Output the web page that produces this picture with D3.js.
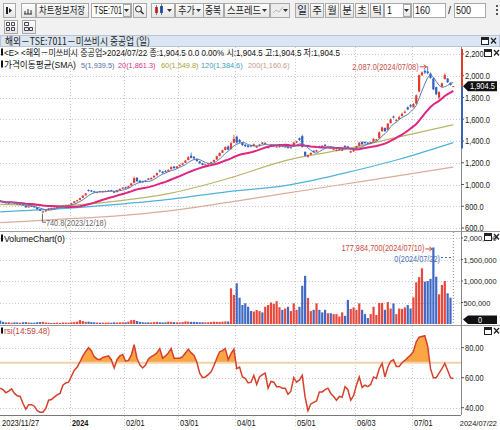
<!DOCTYPE html>
<html>
<head>
<meta charset="utf-8">
<script src="https://cdn.jsdelivr.net/npm/d3@7"></script>
<style>
  body { margin: 0; background: #fff; }
  svg text { font-family: "Liberation Sans", "Noto Sans CJK KR", sans-serif; }
  .kr { font-family: "Noto Sans CJK KR", sans-serif !important; }
</style>
</head>
<body>
<svg id="chart" width="500" height="430"></svg>
<script>
// trading days shown (160 bars)
var dates = [
  "2023/11/27","2023/11/28","2023/11/29","2023/11/30","2023/12/01",
  "2023/12/04","2023/12/05","2023/12/06","2023/12/07","2023/12/08",
  "2023/12/11","2023/12/12","2023/12/13","2023/12/14","2023/12/15",
  "2023/12/18","2023/12/19","2023/12/20","2023/12/21","2023/12/22",
  "2023/12/25","2023/12/26","2023/12/27","2023/12/28","2023/12/29",
  "2024/01/04","2024/01/05","2024/01/09","2024/01/10","2024/01/11","2024/01/12",
  "2024/01/15","2024/01/16","2024/01/17","2024/01/18","2024/01/19",
  "2024/01/22","2024/01/23","2024/01/24","2024/01/25","2024/01/26",
  "2024/01/29","2024/01/30","2024/01/31",
  "2024/02/01","2024/02/02","2024/02/05","2024/02/06","2024/02/07","2024/02/08","2024/02/09",
  "2024/02/13","2024/02/14","2024/02/15","2024/02/16",
  "2024/02/19","2024/02/20","2024/02/21","2024/02/22",
  "2024/02/26","2024/02/27","2024/02/28","2024/02/29",
  "2024/03/01","2024/03/04","2024/03/05","2024/03/06","2024/03/07","2024/03/08",
  "2024/03/11","2024/03/12","2024/03/13","2024/03/14","2024/03/15",
  "2024/03/18","2024/03/19","2024/03/21","2024/03/22",
  "2024/03/25","2024/03/26","2024/03/27","2024/03/28","2024/03/29",
  "2024/04/01","2024/04/02","2024/04/03","2024/04/04","2024/04/05",
  "2024/04/08","2024/04/09","2024/04/10","2024/04/11","2024/04/12",
  "2024/04/15","2024/04/16","2024/04/17","2024/04/18","2024/04/19",
  "2024/04/22","2024/04/23","2024/04/24","2024/04/25","2024/04/26",
  "2024/04/30",
  "2024/05/01","2024/05/02","2024/05/07","2024/05/08","2024/05/09","2024/05/10",
  "2024/05/13","2024/05/14","2024/05/15","2024/05/16","2024/05/17",
  "2024/05/20","2024/05/21","2024/05/22","2024/05/23","2024/05/24",
  "2024/05/27","2024/05/28","2024/05/29","2024/05/30","2024/05/31",
  "2024/06/03","2024/06/04","2024/06/05","2024/06/06","2024/06/07",
  "2024/06/10","2024/06/11","2024/06/12","2024/06/13","2024/06/14",
  "2024/06/17","2024/06/18","2024/06/19","2024/06/20","2024/06/21",
  "2024/06/24","2024/06/25","2024/06/26","2024/06/27","2024/06/28",
  "2024/07/01","2024/07/02","2024/07/03","2024/07/04","2024/07/05",
  "2024/07/08","2024/07/09","2024/07/10","2024/07/11","2024/07/12",
  "2024/07/16","2024/07/17","2024/07/18","2024/07/19","2024/07/22"];

var opens = [
  852,846,838,826,830,835,826,815,818,805, 790,802,798,790,772,748,754,764,784,778,
  786,792,798,804,808,815,830,846,858,878, 900,950,945,938,925,938,930,935,938,948,
  938,930,950,962,975,968,990,1015,1062,1035, 1030,1035,1055,1048,1065,1085,1130,1118,1125,1120,
  1140,1165,1150,1168,1182,1200,1225,1265,1255,1235, 1212,1195,1178,1185,1195,1208,1230,1262,1292,1318,
  1350,1325,1385,1440,1410,1385,1365,1358,1360,1352, 1340,1355,1385,1372,1335,1348,1350,1342,1345,1358,
  1342,1348,1335,1350,1385,1425,1445,1300,1255,1275, 1310,1302,1350,1355,1365,1340,1348,1320,1310,1315,
  1312,1355,1350,1295,1305,1322,1355,1392,1392,1385, 1372,1395,1405,1425,1490,1520,1500,1565,1625,1585,
  1600,1630,1660,1710,1730,1712,1745,1855,2005,2045, 2040,2020,1975,1895,1800,1900,1970,1975,1935,1904.5];

var highs = [
  856,848,840,836,840,838,828,824,820,807, 802,805,800,792,774,756,766,784,788,790,
  798,800,810,814,816,832,848,860,878,902, 922,955,950,940,935,942,942,945,950,952,
  940,952,964,978,980,990,1015,1073,1068,1040, 1036,1042,1060,1066,1085,1110,1138,1125,1132,1140,
  1168,1170,1170,1185,1200,1225,1262,1293,1260,1240, 1218,1200,1190,1200,1210,1230,1265,1295,1320,1350,
  1360,1390,1455,1448,1418,1392,1372,1362,1366,1378, 1360,1375,1390,1390,1352,1368,1365,1356,1358,1362,
  1356,1352,1348,1392,1402,1432,1458,1305,1278,1295, 1315,1320,1358,1362,1372,1356,1352,1334,1324,1330,
  1326,1362,1355,1312,1322,1355,1392,1398,1396,1390, 1395,1425,1420,1488,1532,1525,1565,1608,1635,1602,
  1632,1662,1682,1718,1740,1748,1828,2012,2040,2060, 2087,2030,1985,1900,1858,1938,2022,1980,1940,1904.5];

var lows = [
  840,834,825,824,828,822,814,812,805,786, 788,792,788,768,756,740.8,750,762,774,776,
  784,790,796,802,804,812,828,842,855,876, 898,935,930,924,922,928,928,932,935,936,
  920,928,946,958,960,965,985,1010,1025,1012, 1015,1022,1040,1045,1062,1082,1112,1100,1110,1116,
  1138,1145,1148,1165,1178,1196,1222,1240,1232,1210, 1190,1176,1175,1182,1192,1205,1228,1258,1290,1315,
  1315,1322,1380,1378,1382,1355,1345,1338,1342,1350, 1336,1352,1368,1370,1330,1345,1346,1338,1340,1342,
  1338,1330,1332,1348,1380,1402,1340,1255,1245,1270, 1292,1298,1335,1340,1350,1336,1330,1316,1306,1312,
  1308,1340,1332,1290,1300,1320,1352,1365,1375,1370, 1370,1392,1400,1422,1485,1482,1498,1560,1608,1578,
  1596,1626,1655,1688,1706,1708,1740,1850,1998,2015, 2010,1972,1868,1820,1786,1895,1965,1935,1910,1904.5];

var closes = [
  845,838,828,832,836,826,818,820,808,790, 798,796,792,772,760,752,762,780,778,786,
  794,797,806,810,812,828,845,855,875,898, 918,942,935,928,930,932,938,940,945,940,
  925,948,960,972,965,985,1010,1058,1030,1018, 1020,1028,1045,1060,1080,1105,1120,1105,1118,1135,
  1160,1150,1165,1180,1195,1220,1250,1245,1240,1215, 1195,1180,1185,1195,1205,1225,1260,1290,1315,1345,
  1320,1380,1420,1385,1390,1362,1352,1345,1350,1370, 1352,1368,1375,1382,1345,1362,1360,1350,1352,1348,
  1350,1335,1342,1385,1395,1410,1345,1265,1270,1290, 1300,1315,1340,1345,1355,1350,1335,1328,1318,1325,
  1320,1345,1338,1305,1318,1350,1385,1370,1380,1375, 1390,1420,1415,1480,1525,1490,1560,1600,1615,1595,
  1619,1649,1669,1689,1718,1740,1820,2005,2030,2030, 2025,1980,1875,1830,1850,1930,2008,1940,1915,1904.5];

// volume in thousands of axis units (axis is shares / 100)
var volumes = [
  80,50,35,40,30,38,35,30,40,45, 35,30,30,42,45,48,35,30,25,28,
  30,25,35,32,30,40,45,55,90,70, 50,55,45,40,35,30,35,32,35,30,
  40,35,38,42,40,55,90,95,70,50, 40,35,40,38,45,50,42,38,40,55,
  50,45,40,38,45,60,55,50,48,45, 42,40,38,40,45,55,50,48,55,60,
  58,830,674,946,612,442,481,402,302,290, 325,300,270,402,440,500,470,530,390,330,
  360,400,300,480,330,400,890,1120,605,300, 330,480,330,270,330,250,250,230,230,175,
  270,190,560,350,385,330,480,330,230,140, 230,400,210,490,490,330,510,360,480,230,
  360,350,385,440,360,620,970,1090,1295,985, 1000,1050,1779.847,1100,690,907,1000,714,612,0];

var rsi = [
  53,52,50,51,52.5,49.5,48,47.5,43,39, 42,42,41,38,37,37,39.5,45,45.5,47,
  48.5,49.5,55,56.5,57,61,65,67,70.5,74.5, 77.5,80,78,74,72.5,72,73.5,74,74.5,72,
  66.5,72,74.5,75.5,71,71.5,75,82,73,68.5, 66.5,68.5,72.5,74,75,76.5,79.5,73,74.5,76.5,
  79.5,73,73,73,74,76.5,79,76.5,75,70.5, 63,60,60.5,62,64,68,73,77.3,78,79.5,
  72,76,79,66,67,60.5,59.5,56.5,57,61.5, 55.5,60.5,62,63,53,57.5,57,54,54,53,
  53,49,51,60,57,58.5,61.5,47,38,42.5, 43.5,44.5,50.5,50.5,52,53,49.5,47.5,45,47.5,
  47,54,52,45,48,55,60.5,53.5,55,54, 55.5,60.5,59.5,66,69.5,60.5,67,71,72,67.5,
  67.5,70,71.5,73.5,75,77.5,84,87,87.5,88, 81,66,60,60,63,66,69.5,65,60,59.48];

// long moving averages at sample dates
var maDates = ["2023/11/27","2023/12/25","2024/01/26","2024/02/27","2024/03/27","2024/04/24","2024/05/27","2024/06/24","2024/07/22"];
var ma60  = [818, 806, 845, 920, 1055, 1220, 1320, 1438, 1549.8];
var ma120 = [748, 775, 815, 865, 935, 990, 1100, 1232, 1384.6];
var ma200 = [649, 679, 709, 760, 836, 918, 1000, 1082, 1160.6];

var xTickDates  = ["2024/01/04","2024/02/01","2024/03/01","2024/04/01","2024/05/01","2024/06/03","2024/07/01"];
var xTickLabels = ["2024","02/01","03/01","04/01","05/01","06/03","07/01"];
var priceTicks = [600, 800, 1000, 1200, 1400, 1600, 1800, 2000, 2200];
var volTicks = [500, 1000, 1500, 2000];
var rsiTicks = [40, 60, 80];
var axisBandLow = 1330;   // lower end of the blue band on the price axis

var RED = "#e4392b", BLUE = "#2f5fc2";

var svg = d3.select("#chart");
var n = dates.length;
var idx = d3.range(n);

// panels
var plotR = 461;
var pTop = 47, pBot = 231, vTop = 232, vBot = 325, rTop = 326, rBot = 415;

var x = d3.scaleBand().domain(dates).range([-1.25, 454.75]);
var cx = function(d) { return x(d) + x.bandwidth() / 2; };
var yP = d3.scaleLinear().domain([600, 2200]).range([228, 54]);
var yV = d3.scaleLinear().domain([0, 2000]).range([324, 238]);
var yR = d3.scaleLinear().domain([40, 80]).range([407.7, 347.7]);

var fmtP = d3.format(",.1f"), fmtV = d3.format(","), fmtR = d3.format(".2f");

// width of a number label in the narrow chart font
function tl(s) {
  var d = s.replace(/[^0-9]/g, "").length;
  return d * 4.1 + (s.length - d) * 2.2;
}
function numText(g, xx, yy, s, opts) {
  opts = opts || {};
  var t = g.append("text").attr("x", xx).attr("y", yy).attr("font-size", opts.size || 9)
    .attr("fill", opts.fill || "#222").attr("text-anchor", opts.anchor || "start")
    .attr("textLength", tl(s)).attr("lengthAdjust", "spacingAndGlyphs").text(s);
  if (opts.bold) t.attr("font-weight", "bold");
  return t;
}

// ---------- toolbar ----------
var defs = svg.append("defs");
var grad = defs.append("linearGradient").attr("id", "btn").attr("x1", 0).attr("x2", 0).attr("y1", 0).attr("y2", 1);
grad.append("stop").attr("offset", "0").attr("stop-color", "#ffffff");
grad.append("stop").attr("offset", "1").attr("stop-color", "#e4e4e4");

svg.append("rect").attr("width", 500).attr("height", 36).attr("fill", "#f1f1f1");

var tb = svg.append("g");
function btn(x0, y0, w, h, fill) {
  tb.append("rect").attr("x", x0 + 0.5).attr("y", y0 + 0.5).attr("width", w).attr("height", h)
    .attr("fill", fill || "url(#btn)").attr("stroke", "#a9a9a9");
}
function drop(x0, y0) {
  tb.append("path").attr("d", "M" + x0 + "," + y0 + "h5l-2.5,3z").attr("fill", "#333");
}
function label(x0, y0, s, w, anchor) {
  var t = tb.append("text").attr("class", "kr").attr("x", x0).attr("y", y0)
    .attr("font-size", 10.5).attr("fill", "#222").attr("text-anchor", anchor || "start").text(s);
  if (w) t.attr("textLength", w).attr("lengthAdjust", "spacingAndGlyphs");
}
function plain(x0, y0, s, w) {
  tb.append("text").attr("x", x0).attr("y", y0).attr("font-size", 10).attr("fill", "#111")
    .attr("textLength", w).attr("lengthAdjust", "spacingAndGlyphs").text(s);
}

btn(3, 3, 12, 14);
tb.append("rect").attr("x", 6).attr("y", 7).attr("width", 2).attr("height", 7).attr("fill", "#222");
tb.append("path").attr("d", "M9,8l3,2.5l-3,2.5z").attr("fill", "#222");
btn(21, 3, 14, 14);
tb.append("path").attr("d", "M24,14h8M25,14v-3M28,14v-5M31,14v-4").attr("stroke", "#333").attr("fill", "none");
btn(36, 3, 52, 14);
label(39, 14, "차트정보저장", 46);
btn(91, 3, 40, 14, "#fff");
plain(94, 14, "TSE:701", 28);
btn(123, 4, 7, 12);
drop(124, 9);
btn(133, 3, 13, 14);
tb.append("circle").attr("cx", 138.5).attr("cy", 9).attr("r", 3).attr("fill", "none").attr("stroke", "#333");
tb.append("path").attr("d", "M140.5,11l3,3").attr("stroke", "#333").attr("stroke-width", 1.6);
btn(151, 3, 23, 14);
tb.append("rect").attr("x", 155).attr("y", 7).attr("width", 3).attr("height", 6).attr("fill", RED);
tb.append("rect").attr("x", 160).attr("y", 6).attr("width", 3).attr("height", 7).attr("fill", BLUE);
tb.append("path").attr("d", "M156.5,5v10M161.5,4v11").attr("stroke", "#333").attr("stroke-width", 0.6);
drop(167, 9);
btn(175, 3, 28, 14);
label(178, 14, "추가", 17);
drop(196, 9);
btn(203, 3, 20, 14);
label(205, 14, "중복", 16);
btn(224, 3, 45, 14);
label(227, 14, "스프레드", 34);
drop(262, 9);
btn(270, 3, 19, 14, "#ececec");
tb.append("path").attr("d", "M273,13l3,-3l3,2l4,-5").attr("stroke", "#b8b8b8").attr("fill", "none");
drop(283, 9);
["일", "주", "월", "분", "초", "틱"].forEach(function(s, i) {
  var bx = 295 + i * 15;
  btn(bx, 3, 13, 14, i === 0 ? "#e2e6ec" : null);
  label(bx + 7, 14, s, null, "middle");
});
btn(384, 3, 27, 14, "#fff");
plain(387, 14, "1", 5);
btn(403, 4, 7, 12);
drop(404, 9);
btn(413, 3, 32, 14, "#fff");
plain(415, 14, "160", 15);
plain(448, 14, "/", 3);
btn(454, 3, 31, 14, "#fff");
plain(456, 14, "500", 15);
tb.append("path").attr("d", "M497,5v2M497,9v2M497,13v2").attr("stroke", "#555").attr("stroke-width", 2);
btn(4, 20, 13, 13);
tb.append("path").attr("d", "M6.5,22.5h3v3h-3zM11.5,22.5h3v3h-3zM6.5,27.5h3v3h-3zM11.5,27.5h3v3h-3z").attr("fill", "none").attr("stroke", "#445");
btn(22, 20, 13, 13);
tb.append("path").attr("d", "M24.5,22.5h4v3h-4zM24.5,27.5h4v3h-4zM29.5,27.5h3v3h-3z").attr("fill", "none").attr("stroke", "#445");

// title bar
svg.append("rect").attr("x", 0.5).attr("y", 35.5).attr("width", 499).attr("height", 11).attr("fill", "#dce6f2").attr("stroke", "#b7c5d8");
svg.append("text").attr("class", "kr").attr("x", 5).attr("y", 45).attr("font-size", 10).attr("fill", "#222")
  .attr("textLength", 145).attr("lengthAdjust", "spacingAndGlyphs")
  .text("해외－TSE:7011－미쓰비시 중공업 (일)");

function winBtns(bx, by) {
  svg.append("rect").attr("x", bx + 0.5).attr("y", by + 0.5).attr("width", 7).attr("height", 7).attr("fill", "#fff").attr("stroke", "#222");
  svg.append("rect").attr("x", bx + 1).attr("y", by + 1).attr("width", 6).attr("height", 2).attr("fill", "#222");
  svg.append("path").attr("d", "M" + (bx + 10) + "," + (by + 1) + "l5,5.5M" + (bx + 15) + "," + (by + 1) + "l-5,5.5")
    .attr("stroke", "#222").attr("stroke-width", 1.3);
}
winBtns(481, 37);

// ---------- chart area ----------
svg.append("rect").attr("x", 0).attr("y", 47).attr("width", 500).attr("height", 383).attr("fill", "#fff");

defs.append("clipPath").attr("id", "clipP").append("rect").attr("x", 0).attr("y", pTop).attr("width", plotR).attr("height", pBot - pTop);
defs.append("clipPath").attr("id", "clipV").append("rect").attr("x", 0).attr("y", vTop).attr("width", plotR).attr("height", vBot - vTop);
defs.append("clipPath").attr("id", "clipR").append("rect").attr("x", 0).attr("y", rTop).attr("width", plotR).attr("height", rBot - rTop);
defs.append("clipPath").attr("id", "clipAbove").append("rect").attr("x", 0).attr("y", rTop).attr("width", plotR).attr("height", yR(70) - rTop);

var grid = svg.append("g").attr("stroke", "#c9c9c9").attr("stroke-dasharray", "1,2");
priceTicks.forEach(function(t) {
  grid.append("line").attr("x1", 0).attr("x2", plotR).attr("y1", Math.round(yP(t)) + 0.5).attr("y2", Math.round(yP(t)) + 0.5);
});
volTicks.forEach(function(t) {
  grid.append("line").attr("x1", 0).attr("x2", plotR).attr("y1", Math.round(yV(t)) + 0.5).attr("y2", Math.round(yV(t)) + 0.5);
});
rsiTicks.forEach(function(t) {
  grid.append("line").attr("x1", 0).attr("x2", plotR).attr("y1", Math.round(yR(t)) + 0.5).attr("y2", Math.round(yR(t)) + 0.5);
});
xTickDates.forEach(function(d) {
  grid.append("line").attr("x1", Math.round(x(d)) + 0.5).attr("x2", Math.round(x(d)) + 0.5).attr("y1", pTop).attr("y2", 426);
});

// panel separators and axes
svg.append("path").attr("d", "M0," + (pBot + 0.5) + "H500M0," + (vBot + 0.5) + "H500").attr("stroke", "#9a9a9a");
svg.append("path").attr("d", "M0," + (rBot + 0.5) + "H" + plotR).attr("stroke", "#777");
svg.append("path").attr("d", "M" + (plotR + 0.5) + "," + pTop + "V" + rBot).attr("stroke", "#888");

// ---------- price panel ----------
var gp = svg.append("g").attr("clip-path", "url(#clipP)");

function sma(arr, k) {
  return arr.map(function(v, i) { return d3.mean(arr.slice(Math.max(0, i - k + 1), i + 1)); });
}
var ma5 = sma(closes, 5), ma20 = sma(closes, 20);

var maLine = d3.line().x(function(d, i) { return cx(maDates[i]); }).y(function(d) { return yP(d); }).curve(d3.curveMonotoneX);
var dayLine = d3.line().x(function(d, i) { return cx(dates[i]); }).y(function(d) { return yP(d); });

gp.append("path").attr("d", maLine(ma200)).attr("fill", "none").attr("stroke", "#d9ad9c").attr("stroke-width", 1.2);
gp.append("path").attr("d", maLine(ma120)).attr("fill", "none").attr("stroke", "#4fb2da").attr("stroke-width", 1.2);
gp.append("path").attr("d", maLine(ma60)).attr("fill", "none").attr("stroke", "#b9b56a").attr("stroke-width", 1.2);

var up = function(i) { return closes[i] >= opens[i]; };

gp.selectAll(".wick").data(idx).join("line")
  .attr("x1", function(i) { return cx(dates[i]); })
  .attr("x2", function(i) { return cx(dates[i]); })
  .attr("y1", function(i) { return yP(highs[i]); })
  .attr("y2", function(i) { return yP(lows[i]); })
  .attr("stroke", function(i) { return up(i) ? RED : BLUE; })
  .attr("stroke-width", 0.8);

gp.selectAll(".body").data(idx).join("rect")
  .attr("x", function(i) { return cx(dates[i]) - 1.1; })
  .attr("width", 2.2)
  .attr("y", function(i) { return yP(Math.max(opens[i], closes[i])); })
  .attr("height", function(i) { return Math.max(1, Math.abs(yP(opens[i]) - yP(closes[i]))); })
  .attr("fill", function(i) { return up(i) ? RED : BLUE; });

gp.append("path").attr("d", dayLine(ma20)).attr("fill", "none").attr("stroke", "#e0247f").attr("stroke-width", 2);
gp.append("path").attr("d", dayLine(ma5)).attr("fill", "none").attr("stroke", "#5a7db4").attr("stroke-width", 1);

// high / low markers
var iHi = d3.maxIndex(highs), iLo = d3.minIndex(lows);
var hx = cx(dates[iHi]), hy = yP(highs[iHi]);
gp.append("path").attr("d", "M" + (hx - 8) + "," + (hy + 0.5) + "H" + (hx - 1) + "m-3,-2l3,2l-3,2")
  .attr("stroke", "#c8504a").attr("fill", "none");
numText(gp, hx - 9, hy + 3.5, fmtP(highs[iHi]) + "(" + dates[iHi] + ")", {fill: "#c8504a", anchor: "end", size: 8.5});
var lx = cx(dates[iLo]), ly = yP(lows[iLo]);
gp.append("path").attr("d", "M" + (lx - 0.5) + "," + (ly + 1) + "V" + (ly + 9.5) + "H" + (lx + 3))
  .attr("stroke", "#666").attr("fill", "none");
numText(gp, lx + 3, ly + 13, fmtP(lows[iLo]) + "(" + dates[iLo] + ")", {fill: "#666", size: 8.5});

// legend
svg.append("rect").attr("x", 1).attr("y", 48.5).attr("width", 2).attr("height", 7).attr("fill", "#111");
svg.append("text").attr("x", 4).attr("y", 55.5).attr("font-size", 9).attr("fill", "#111")
  .attr("textLength", 336).attr("lengthAdjust", "spacingAndGlyphs")
  .text("<E> <해외－미쓰비시 중공업>" + dates[n - 1] + " 종:" + fmtP(closes[n - 1]) + " 0.0 0.00% 시:" + fmtP(opens[n - 1]) +
        " 고:" + fmtP(highs[n - 1]) + " 저:" + fmtP(lows[n - 1]));
svg.append("rect").attr("x", 1).attr("y", 60.5).attr("width", 2).attr("height", 7).attr("fill", "#111");
svg.append("text").attr("x", 4).attr("y", 67.5).attr("font-size", 9).attr("fill", "#111")
  .attr("textLength", 72).attr("lengthAdjust", "spacingAndGlyphs").text("가격이동평균(SMA)");
var leg = [
  {t: "5(" + fmtP(ma5[n - 1]) + ")", x: 81, c: "#4f6ea3"},
  {t: "20(" + fmtP(ma20[n - 1]) + ")", x: 118, c: "#d8308a"},
  {t: "60(" + fmtP(ma60[ma60.length - 1]) + ")", x: 161, c: "#a9a236"},
  {t: "120(" + fmtP(ma120[ma120.length - 1]) + ")", x: 201, c: "#3b9cc0"},
  {t: "200(" + fmtP(ma200[ma200.length - 1]) + ")", x: 248, c: "#c69886"}];
leg.forEach(function(l) { numText(svg, l.x, 67.5, l.t, {fill: l.c, size: 8}); });

// price axis
var ax = svg.append("g");
priceTicks.forEach(function(t) {
  ax.append("line").attr("x1", plotR).attr("x2", plotR + 3).attr("y1", yP(t)).attr("y2", yP(t)).attr("stroke", "#555");
  numText(ax, plotR + 4, yP(t) + 3.3, fmtP(t));
});
var last = closes[n - 1];
svg.append("line").attr("x1", plotR + 1).attr("x2", plotR + 1).attr("y1", pTop + 2).attr("y2", yP(last)).attr("stroke", "#e03a2c").attr("stroke-width", 2);
svg.append("line").attr("x1", plotR + 1).attr("x2", plotR + 1).attr("y1", yP(last)).attr("y2", yP(axisBandLow)).attr("stroke", "#3a62b8").attr("stroke-width", 2);
var ty = yP(last);
svg.append("path").attr("d", "M" + (plotR + 2) + "," + ty + "l5,-5h29v10h-29z").attr("fill", "#111");
numText(svg, plotR + 9, ty + 3.3, fmtP(last), {fill: "#fff"});
winBtns(484, 49);

// ---------- volume panel ----------
var gv = svg.append("g").attr("clip-path", "url(#clipV)");
gv.selectAll("rect").data(idx).join("rect")
  .attr("x", function(i) { return cx(dates[i]) - 1.1; })
  .attr("width", 2.2)
  .attr("y", function(i) { return yV(volumes[i]); })
  .attr("height", function(i) { return yV(0) - yV(volumes[i]); })
  .attr("fill", function(i) { return up(i) ? "#e8473c" : "#4069c4"; });

var iVmax = d3.maxIndex(volumes), iVmin = n - 1;
var vmx = cx(dates[iVmax]), vmy = yV(volumes[iVmax]);
gv.append("path").attr("d", "M" + (vmx - 8) + "," + (vmy + 1.5) + "H" + (vmx - 1) + "m-3,-2l3,2l-3,2")
  .attr("stroke", "#d04a42").attr("fill", "none");
numText(gv, vmx - 9, vmy + 4, fmtV(Math.round(volumes[iVmax] * 100000)) + "(" + dates[iVmax] + ")", {fill: "#d04a42", anchor: "end", size: 8.5});
var mnx = cx(dates[iVmin]);
gv.append("line").attr("x1", mnx).attr("x2", mnx).attr("y1", vTop).attr("y2", vBot).attr("stroke", "#888").attr("stroke-dasharray", "1,2");
gv.append("line").attr("x1", 441).attr("x2", mnx).attr("y1", 257.5).attr("y2", 257.5).attr("stroke", "#4d6fb8").attr("stroke-dasharray", "2,2");
numText(gv, 440, 261.5, fmtV(volumes[iVmin]) + "(" + dates[iVmin] + ")", {fill: "#4d6fb8", anchor: "end", size: 8.5});

svg.append("rect").attr("x", 1).attr("y", 234.5).attr("width", 2).attr("height", 7).attr("fill", "#111");
svg.append("text").attr("x", 4).attr("y", 241.5).attr("font-size", 9).attr("fill", "#111")
  .attr("textLength", 61).attr("lengthAdjust", "spacingAndGlyphs").text("VolumeChart(0)");

volTicks.forEach(function(t) {
  ax.append("line").attr("x1", plotR).attr("x2", plotR + 2).attr("y1", yV(t)).attr("y2", yV(t)).attr("stroke", "#555");
  numText(ax, plotR + 2.5, yV(t) + 3, fmtV(t * 1000), {size: 8});
});
var vy = Math.min(yV(volumes[n - 1]), vBot - 5.5);
svg.append("path").attr("d", "M" + (plotR + 2) + "," + vy + "l5,-4h29v8.5h-29z").attr("fill", "#111");
numText(svg, 480, vy + 3.3, fmtV(volumes[n - 1]), {fill: "#fff", anchor: "middle"});
winBtns(484, 233);

// ---------- rsi panel ----------
var gr = svg.append("g").attr("clip-path", "url(#clipR)");
var rsiArea = d3.area().x(function(d, i) { return cx(dates[i]); }).y0(yR(70)).y1(function(d) { return yR(d); });
var rsiLine = d3.line().x(function(d, i) { return cx(dates[i]); }).y(function(d) { return yR(d); });
gr.append("path").attr("d", rsiArea(rsi)).attr("fill", "#fba544").attr("clip-path", "url(#clipAbove)");
gr.append("line").attr("x1", 0).attr("x2", plotR).attr("y1", yR(70)).attr("y2", yR(70)).attr("stroke", "#f2d2a8").attr("stroke-width", 2);
gr.append("path").attr("d", rsiLine(rsi)).attr("fill", "none").attr("stroke", "#d5402a").attr("stroke-width", 1.5);

svg.append("rect").attr("x", 1).attr("y", 327.5).attr("width", 2).attr("height", 6).attr("fill", "#111");
svg.append("text").attr("x", 4).attr("y", 333.5).attr("font-size", 9).attr("fill", "#c0463e")
  .attr("textLength", 46).attr("lengthAdjust", "spacingAndGlyphs").text("rsi(14:" + fmtR(rsi[n - 1]) + ")");

rsiTicks.forEach(function(t) {
  ax.append("line").attr("x1", plotR).attr("x2", plotR + 3).attr("y1", yR(t)).attr("y2", yR(t)).attr("stroke", "#555");
  numText(ax, plotR + 4, yR(t) + 3.3, fmtR(t));
});
winBtns(484, 327);

// ---------- x axis ----------
var xa = svg.append("g");
numText(xa, 2, 426, dates[0], {fill: "#111"});
xTickDates.forEach(function(d, i) {
  numText(xa, Math.round(x(d)) + 2, 426, xTickLabels[i], {fill: "#111", bold: i === 0});
});
numText(xa, 497 - tl(dates[n - 1]), 426, dates[n - 1], {fill: "#111", size: 8});
</script>
</body>
</html>
